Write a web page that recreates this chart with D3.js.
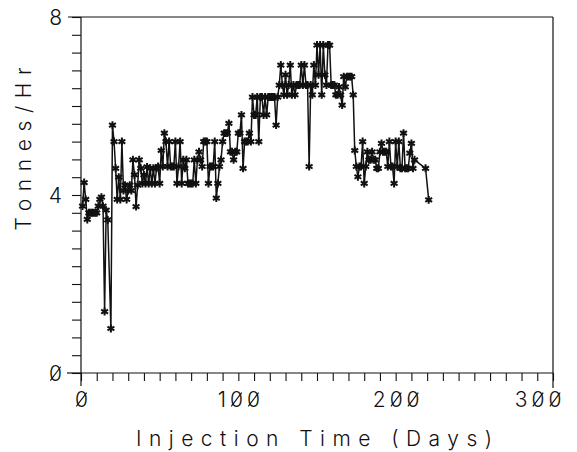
<!DOCTYPE html>
<html><head><meta charset="utf-8">
<script src="https://cdn.jsdelivr.net/npm/d3@7"></script>
<style>
html,body{margin:0;padding:0;background:#fff;}
svg text{font-family:Inter,"DejaVu Sans",sans-serif;font-weight:300;fill:#111;}
</style></head>
<body><svg id="c" width="577" height="452"></svg>
<script>
const days = [1,2,3,4,5,6,7,8,9,10,11,12,13,14,15,16,17,19,20,21,22,23,24,25,26,27,28,29,30,31,32,33,34,35,36,37,38,39,40,41,42,43,44,45,46,47,48,49,50,51,52,53,54,55,56,57,58,59,60,61,62,63,64,65,66,67,68,69,70,71,72,73,74,75,76,77,78,79,80,81,82,83,84,85,86,87,88,89,90,91,92,93,94,95,96,97,98,99,100,101,102,103,104,105,106,107,108,109,110,111,112,113,114,115,116,117,118,119,120,121,122,123,124,125,126,127,128,129,130,131,132,133,134,135,136,137,138,139,140,141,142,143,144,145,146,147,148,149,150,151,152,153,154,155,156,157,158,159,160,161,162,163,164,165,166,167,168,169,170,171,172,173,174,175,176,177,178,179,180,181,182,183,184,185,186,187,188,189,190,191,192,193,194,195,196,197,198,199,200,201,202,203,204,205,206,207,208,209,210,211,212,219,221];
const tonnesPerHr = [3.75,4.28,3.9,3.45,3.6,3.6,3.6,3.6,3.6,3.6,3.75,3.9,3.95,3.75,1.38,3.66,3.44,1.0,5.57,5.2,4.6,3.9,4.4,3.9,5.2,4.1,4.22,3.9,4.1,4.22,4.1,4.79,4.45,3.74,4.22,4.79,4.6,4.26,4.45,4.26,4.63,4.26,4.6,4.26,4.6,4.26,4.6,4.64,4.26,5.0,4.64,5.39,5.2,4.64,5.2,4.64,4.64,4.64,5.2,4.26,4.64,5.2,4.26,4.79,4.6,4.79,4.26,4.26,4.26,4.26,4.79,4.26,4.79,4.97,4.79,4.64,5.2,5.2,5.2,4.26,4.64,4.64,4.64,5.2,3.93,4.26,4.64,4.79,5.2,5.39,5.39,5.39,5.61,4.97,4.97,4.79,4.97,4.97,5.39,5.39,5.8,4.6,5.2,5.2,5.2,5.39,5.2,6.2,5.8,5.8,6.2,5.2,6.2,6.2,5.8,6.2,5.8,6.2,6.2,6.2,6.2,6.2,5.57,6.2,6.47,6.92,6.47,6.25,6.7,6.25,6.47,6.92,6.25,6.47,6.25,6.47,6.47,6.47,6.92,6.47,6.92,6.47,6.47,4.64,6.47,6.25,6.92,6.47,7.37,6.7,7.37,6.25,7.37,6.7,6.47,7.37,7.37,6.47,6.47,6.47,6.25,6.25,6.43,6.25,6.02,6.66,6.43,6.66,6.66,6.66,6.66,6.25,5.0,4.64,4.41,4.64,4.64,5.2,4.26,4.64,4.97,4.79,4.79,4.97,4.79,4.79,4.6,4.6,4.97,5.16,4.97,4.97,4.97,4.64,5.2,4.64,4.64,4.26,5.2,4.64,5.2,4.6,4.6,5.39,4.6,4.6,4.6,4.94,5.16,4.6,4.79,4.6,3.89];
const xTickLabels = ["0","100","200","300"];
const yTickLabels = ["0","4","8"];
const LS = 4, FS = 21;

const svg = d3.select("#c");
const x = d3.scaleLinear().domain([0,300]).range([81,553]);
const y = d3.scaleLinear().domain([0,8]).range([373,17]);
const data = days.map((d,i)=>({d, v:tonnesPerHr[i]}));

// frame top and right
svg.append("line").attr("x1",68).attr("x2",x(300)).attr("y1",y(8)).attr("y2",y(8)).attr("stroke","#111").attr("stroke-width",1.2);
svg.append("line").attr("x1",x(300)).attr("x2",x(300)).attr("y1",y(8)).attr("y2",388).attr("stroke","#111").attr("stroke-width",1.2);
// origin cross extensions
svg.append("line").attr("x1",67).attr("x2",x(0)).attr("y1",y(0)).attr("y2",y(0)).attr("stroke","#111").attr("stroke-width",1.2);
svg.append("line").attr("x1",x(0)).attr("x2",x(0)).attr("y1",y(0)).attr("y2",386).attr("stroke","#111").attr("stroke-width",1.2);

const yTicks = d3.range(0,21).map(i=>i*0.4);
const yAxis = d3.axisLeft(y).tickValues(yTicks).tickSize(9).tickPadding(10)
  .tickFormat(v => { const s = String(Math.round(v*100)/100); return yTickLabels.includes(s) ? s : ""; });
const gy = svg.append("g").attr("transform",`translate(${x(0)},0)`).call(yAxis);
gy.select(".domain").attr("d",`M0,${y(8)}V${y(0)}`).attr("stroke","#111").attr("stroke-width",1.2);
gy.selectAll(".tick line").attr("stroke","#111").attr("stroke-width",1.1);
gy.selectAll(".tick text").attr("font-size",FS).attr("dy","0.36em").attr("fill","#111");

const xTicks = d3.range(0,31).map(i=>i*10);
const xAxis = d3.axisBottom(x).tickValues(xTicks).tickSize(8).tickPadding(11)
  .tickFormat(v => xTickLabels.includes(String(v)) ? String(v) : "");
const gx = svg.append("g").attr("transform",`translate(0,${y(0)})`).call(xAxis);
gx.select(".domain").attr("d",`M${x(0)},0H${x(300)}`).attr("stroke","#111").attr("stroke-width",1.2);
gx.selectAll(".tick line").attr("stroke","#111").attr("stroke-width",1.1);
gx.selectAll(".tick text").attr("font-size",FS).attr("fill","#111").attr("letter-spacing",LS+"px").attr("dx",(LS/2)+"px");
// last label kept inside the picture, like the reference
gx.selectAll(".tick text").filter(v=>v===300).attr("text-anchor","end").attr("dx","12px");

// slash across every zero digit (plotter-font slashed zero), from the label geometry
function slashZeros(sel, ls){
  sel.each(function(){
    const t = this, s = t.textContent;
    for (let i=0;i<s.length;i++){
      if (s[i] !== "0") continue;
      const ext = t.getExtentOfChar(i);
      const gw = ext.width - ls;
      const cx = ext.x + gw/2, cy = ext.y + FS*0.6;
      const w = gw*0.4, h = FS*0.33;
      d3.select(t.parentNode).append("line")
        .attr("x1",cx-w).attr("y1",cy+h).attr("x2",cx+w).attr("y2",cy-h)
        .attr("stroke","#111").attr("stroke-width",1.1);
    }
  });
}
slashZeros(gx.selectAll(".tick text"), LS);
slashZeros(gy.selectAll(".tick text"), 0);

// line
const line = d3.line().x(p=>x(p.d)).y(p=>y(p.v));
svg.append("path").datum(data).attr("d",line).attr("fill","none").attr("stroke","#111").attr("stroke-width",1.5);
// markers
const sym = d3.symbol().type(d3.symbolAsterisk).size(44);
svg.append("g").selectAll("path").data(data).join("path")
  .attr("transform",p=>`translate(${x(p.d)},${y(p.v)})`)
  .attr("d",sym).attr("fill","none").attr("stroke","#111").attr("stroke-width",2);

// titles
svg.append("text").attr("x",314).attr("y",446).attr("text-anchor","middle")
  .attr("font-size",FS).attr("textLength",356).attr("lengthAdjust","spacing").text("Injection Time (Days)");
svg.append("text").attr("transform","translate(31,149) rotate(-90)").attr("text-anchor","middle")
  .attr("font-size",FS).attr("textLength",163).attr("lengthAdjust","spacing").text("Tonnes/Hr");
</script></body></html>
